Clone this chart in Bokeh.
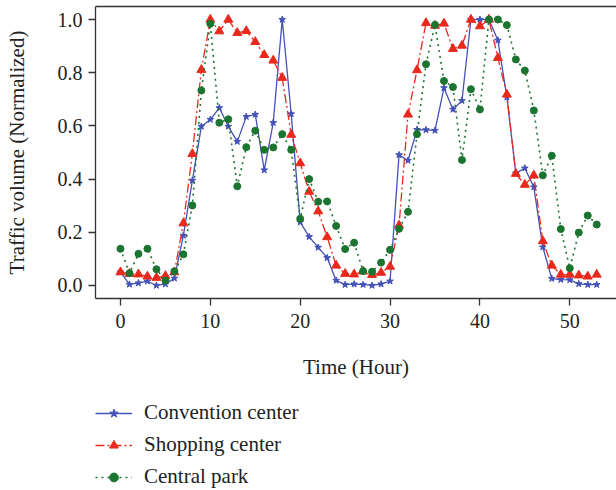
from bokeh.plotting import figure
from bokeh.layouts import column
from bokeh.models import (Range1d, LinearAxis, FixedTicker, NumeralTickFormatter,
                          Legend, LegendItem)
from bokeh.embed import file_html
from bokeh.resources import INLINE

hours = list(range(54))

convention = [0.05, 0.004, 0.009, 0.016, 0.0, 0.005, 0.027, 0.188, 0.395, 0.598,
              0.624, 0.668, 0.598, 0.541, 0.635, 0.643, 0.434, 0.612, 1.0, 0.645,
              0.238, 0.183, 0.143, 0.104, 0.019, 0.003, 0.005, 0.003, 0.0, 0.005,
              0.016, 0.491, 0.470, 0.586, 0.585, 0.583, 0.743, 0.662, 0.695, 1.0,
              1.0, 1.0, 0.922, 0.708, 0.422, 0.441, 0.37, 0.144, 0.026, 0.022,
              0.021, 0.006, 0.003, 0.003]

shopping = [0.05, 0.044, 0.042, 0.034, 0.029, 0.036, 0.05, 0.234, 0.495, 0.811,
            1.0, 0.956, 1.0, 0.95, 0.957, 0.916, 0.867, 0.846, 0.781, 0.567,
            0.46, 0.353, 0.279, 0.182, 0.075, 0.044, 0.042, 0.053, 0.04, 0.048,
            0.071, 0.226, 0.643, 0.81, 0.987, 0.977, 0.985, 0.89, 0.902, 1.0,
            0.975, 1.0, 0.856, 0.718, 0.42, 0.379, 0.414, 0.167, 0.075, 0.041,
            0.041, 0.038, 0.034, 0.041]

park = [0.138, 0.046, 0.119, 0.138, 0.061, 0.019, 0.053, 0.117, 0.301, 0.733,
        0.984, 0.612, 0.625, 0.373, 0.52, 0.582, 0.51, 0.519, 0.569, 0.51,
        0.251, 0.4, 0.315, 0.316, 0.224, 0.137, 0.161, 0.054, 0.052, 0.086,
        0.134, 0.213, 0.277, 0.569, 0.832, 0.98, 0.769, 0.746, 0.472, 0.738,
        0.662, 1.0, 1.0, 0.979, 0.85, 0.808, 0.658, 0.414, 0.488, 0.212,
        0.065, 0.199, 0.263, 0.229]

series_names = ["Convention center", "Shopping center", "Central park"]

x_ticks = [0, 10, 20, 30, 40, 50]
y_ticks = [0.0, 0.2, 0.4, 0.6, 0.8, 1.0]

FONT = "Liberation Serif"
AXIS_COLOR = "#333333"
TEXT_COLOR = "#222222"
BLUE = "#4351b8"
RED = "#e8291c"
GREEN = "#1b7430"

STYLES = [
    dict(color=BLUE, line_width=1.3, line_dash="solid", marker="star", size=7),
    dict(color=RED, line_width=1.3, line_dash="9 3 2 3", marker="triangle", size=9),
    dict(color=GREEN, line_width=1.6, line_dash="2 4", marker="circle", size=7),
]
DATA = [convention, shopping, park]


def draw(fig, visible=True):
    out = []
    for ys, st in zip(DATA, STYLES):
        ln = fig.line(hours, ys, color=st["color"], line_width=st["line_width"],
                      line_dash=st["line_dash"], visible=visible)
        sc = fig.scatter(hours, ys, marker=st["marker"], size=st["size"],
                         color=st["color"], visible=visible)
        out.append([ln, sc])
    return out


# ---- main chart ----
p = figure(width=616, height=392, output_backend="svg", toolbar_location=None,
           x_range=Range1d(-2.78, 55.2), y_range=Range1d(-0.049, 1.049),
           min_border_left=95, min_border_right=0, min_border_top=6,
           min_border_bottom=94)
p.grid.visible = False
p.outline_line_color = None
draw(p)

for ax in (p.xaxis[0], p.yaxis[0]):
    ax.axis_line_color = AXIS_COLOR
    ax.axis_line_width = 1.3
    ax.major_tick_line_color = AXIS_COLOR
    ax.major_tick_line_width = 1.3
    ax.major_tick_out = 7
    ax.major_tick_in = 0
    ax.minor_tick_line_color = None
    ax.major_label_text_font = FONT
    ax.major_label_text_font_size = "20px"
    ax.major_label_text_color = TEXT_COLOR
    ax.axis_label_text_font = FONT
    ax.axis_label_text_font_size = "21px"
    ax.axis_label_text_font_style = "normal"
    ax.axis_label_text_color = TEXT_COLOR

p.xaxis[0].ticker = FixedTicker(ticks=x_ticks)
p.xaxis[0].axis_label = "Time (Hour)"
p.xaxis[0].major_label_standoff = 8
p.xaxis[0].axis_label_standoff = 24

p.yaxis[0].ticker = FixedTicker(ticks=y_ticks)
p.yaxis[0].formatter = NumeralTickFormatter(format="0.0")
p.yaxis[0].axis_label = "Traffic volume (Normalized)"
p.yaxis[0].major_label_standoff = 6
p.yaxis[0].axis_label_standoff = 26

top = LinearAxis(ticker=FixedTicker(ticks=[]), major_label_text_font_size="0px",
                 axis_line_color=AXIS_COLOR, axis_line_width=1.3,
                 major_tick_line_color=None, minor_tick_line_color=None,
                 major_tick_out=0, major_tick_in=0, major_label_standoff=0)
p.add_layout(top, "above")

# ---- legend strip ----
p2 = figure(width=616, height=98, output_backend="svg", toolbar_location=None,
            x_axis_type=None, y_axis_type=None,
            x_range=Range1d(-2.78, 55.2), y_range=Range1d(-0.049, 1.049),
            min_border_left=95, min_border_right=0, min_border_top=8,
            min_border_bottom=0)
p2.grid.visible = False
p2.outline_line_color = None
rs = draw(p2, visible=False)

legend = Legend(items=[LegendItem(label=n, renderers=r)
                       for n, r in zip(series_names, rs)],
                location="top_left", orientation="vertical")
legend.label_text_font = FONT
legend.label_text_font_size = "21px"
legend.label_text_color = TEXT_COLOR
legend.label_height = 22
legend.glyph_height = 22
legend.glyph_width = 37
legend.label_standoff = 12
legend.spacing = 7
legend.padding = 0
legend.margin = 0
legend.border_line_color = None
legend.background_fill_alpha = 0
legend.inactive_fill_alpha = 0
p2.add_layout(legend, "center")

layout = column(p, p2, spacing=0)
open("out.html", "w").write(file_html(layout, INLINE))
